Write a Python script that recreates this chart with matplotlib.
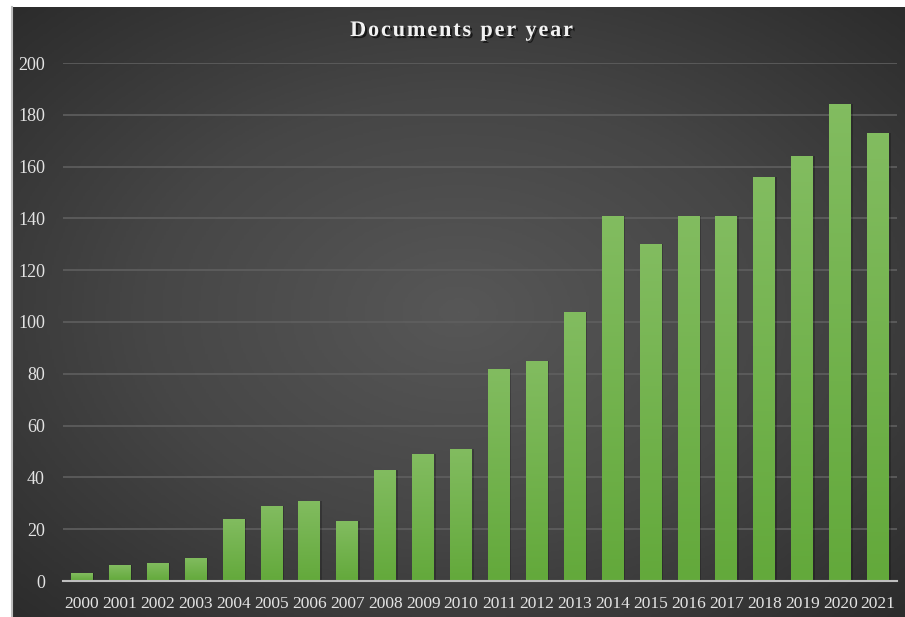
import numpy as np
import matplotlib.pyplot as plt
from matplotlib.colors import LinearSegmentedColormap
import matplotlib.patheffects as pe

years = [str(y) for y in range(2000, 2022)]
docs = [3, 6, 7, 9, 24, 29, 31, 23, 43, 49, 51, 82, 85, 104, 141, 130, 141, 141, 156, 164, 184, 173]
yticks = [0, 20, 40, 60, 80, 100, 120, 140, 160, 180, 200]

plt.rcParams['font.family'] = ['Liberation Serif', 'DejaVu Serif']

W, H = 905, 617
fig = plt.figure(figsize=(W / 100, H / 100), dpi=100, facecolor='white')

# dark radial background of the chart area
bg = fig.add_axes([12 / W, 0, (W - 12) / W, (H - 7) / H])
bg.set_axis_off()
gx, gy = np.meshgrid(np.linspace(-1, 1, 400), np.linspace(-1, 1, 300))
r = np.sqrt(gx ** 2 + gy ** 2) / np.sqrt(2)
bg_cmap = LinearSegmentedColormap.from_list('bg', ['#575757', '#464646', '#2c2c2c'])
bg.imshow(r, cmap=bg_cmap, aspect='auto', extent=[0, 1, 0, 1], vmin=0, vmax=1)
bg.plot([0, 0], [0, 1], color='#bdbdbd', lw=1.5, transform=bg.transAxes, clip_on=False)

ax = fig.add_axes([63 / W, (H - 581) / H, (897 - 63) / W, (581 - 63) / H])
ax.patch.set_alpha(0)

x = np.arange(len(years))
bars = ax.bar(x, docs, width=0.58, color='none', zorder=3)

# vertical green gradient inside each bar, with a soft shadow to the right
bar_cmap = LinearSegmentedColormap.from_list('bar', ['#63a93b', '#82bc60'])
grad = np.linspace(0, 1, 100).reshape(-1, 1)
for b in bars:
    x0, w, h = b.get_x(), b.get_width(), b.get_height()
    ax.add_patch(plt.Rectangle((x0 + 0.04, 0), w, h, color='black', alpha=0.22, zorder=2, lw=0))
    im = ax.imshow(grad, cmap=bar_cmap, aspect='auto', origin='lower',
                   extent=[x0, x0 + w, 0, h], zorder=3)
    im.set_clip_path(b)

ax.set_xlim(-0.5, len(years) - 0.5)
ax.set_ylim(0, 200)
ax.set_xticks(x)
ax.set_xticklabels(years)
ax.set_yticks(yticks)
ax.tick_params(axis='both', length=0, colors='#e3e3e3')
ax.tick_params(axis='x', pad=11, labelsize=12.5)
ax.tick_params(axis='y', pad=13, labelsize=13)
ax.grid(axis='y', color='#5f5f5f', lw=1.2, zorder=1)
for s in ['top', 'right', 'left']:
    ax.spines[s].set_visible(False)
ax.spines['bottom'].set_color('#bfbfbf')
ax.spines['bottom'].set_linewidth(1.5)
ax.spines['bottom'].set_zorder(4)

fig.text(462 / W, 1 - 31 / H, '\u200a'.join('Documents per year'), ha='center', va='center',
         color='#f2f2f2', fontsize=16, fontweight='bold',
         path_effects=[pe.withSimplePatchShadow(offset=(1.5, -1.5), shadow_rgbFace='black', alpha=0.6)])

fig.savefig('out.png', dpi=100, facecolor='white')
